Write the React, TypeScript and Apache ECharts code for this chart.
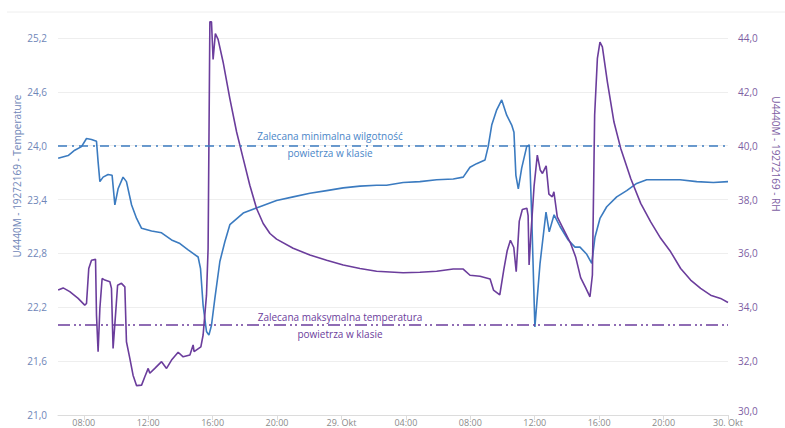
import React, { useEffect, useRef } from "react";
import * as echarts from "echarts";

// hours since 28 Oct 00:00
const tempHours = [6.41, 7.03, 7.44, 7.86, 8.17, 8.48, 8.79, 8.89, 9.0, 9.2, 9.51, 9.76, 9.93, 10.13, 10.44, 10.65, 10.97, 11.28, 11.59, 12.21, 12.83, 13.45, 13.97, 14.48, 15.1, 15.25, 15.41, 15.62, 15.77, 15.93, 16.14, 16.45, 16.76, 17.07, 17.9, 18.93, 19.97, 21.0, 22.04, 23.08, 24.11, 25.15, 26.18, 26.8, 27.83, 28.87, 29.91, 30.94, 31.56, 31.98, 32.39, 32.91, 33.11, 33.33, 33.64, 33.95, 34.26, 34.57, 34.71, 34.83, 34.98, 35.19, 35.5, 35.66, 35.81, 36.01, 36.33, 36.7, 36.9, 37.2, 37.57, 38.08, 38.5, 38.81, 39.23, 39.54, 39.74, 40.05, 40.47, 41.09, 41.71, 42.33, 42.95, 43.98, 45.02, 46.06, 47.09, 48.0];
const tempValues = [23.86, 23.89, 23.95, 23.99, 24.08, 24.07, 24.05, 23.82, 23.6, 23.65, 23.68, 23.67, 23.34, 23.52, 23.65, 23.6, 23.34, 23.19, 23.08, 23.05, 23.03, 22.95, 22.91, 22.84, 22.76, 22.63, 22.22, 21.93, 21.89, 22.0, 22.3, 22.71, 22.93, 23.12, 23.25, 23.32, 23.39, 23.43, 23.47, 23.5, 23.53, 23.55, 23.56, 23.56, 23.59, 23.6, 23.62, 23.63, 23.65, 23.76, 23.8, 23.84, 23.99, 24.23, 24.4, 24.51, 24.34, 24.23, 24.15, 23.67, 23.52, 23.75, 23.99, 24.01, 23.23, 21.98, 22.69, 23.26, 23.04, 23.23, 23.1, 22.95, 22.87, 22.87, 22.79, 22.69, 22.98, 23.19, 23.32, 23.43, 23.5, 23.58, 23.62, 23.62, 23.62, 23.6, 23.59, 23.6];

const rhHours = [6.41, 6.72, 7.13, 7.65, 8.06, 8.17, 8.31, 8.48, 8.73, 8.79, 8.89, 9.0, 9.14, 9.31, 9.62, 9.72, 9.82, 9.97, 10.1, 10.34, 10.55, 10.65, 10.86, 11.06, 11.28, 11.59, 11.79, 12.0, 12.1, 12.41, 12.83, 13.14, 13.45, 13.86, 14.17, 14.59, 14.79, 14.85, 15.27, 15.41, 15.62, 15.72, 15.83, 15.93, 16.03, 16.17, 16.34, 16.65, 17.07, 17.49, 17.9, 18.31, 18.73, 19.14, 19.56, 19.97, 21.0, 22.04, 23.08, 24.11, 25.15, 26.18, 27.83, 28.87, 29.91, 30.94, 31.56, 31.98, 32.6, 33.23, 33.44, 33.83, 34.08, 34.29, 34.49, 34.7, 34.85, 35.04, 35.23, 35.51, 35.59, 35.65, 35.76, 35.96, 36.16, 36.34, 36.48, 36.71, 36.88, 37.09, 37.19, 37.4, 37.71, 38.23, 38.54, 38.85, 39.16, 39.43, 39.58, 39.72, 39.89, 40.05, 40.2, 40.51, 40.92, 41.34, 41.96, 42.58, 43.2, 43.82, 44.44, 45.06, 45.68, 46.3, 46.92, 47.54, 48.0];
const rhValues = [34.64, 34.72, 34.58, 34.33, 34.08, 34.14, 35.44, 35.75, 35.78, 33.71, 32.35, 33.96, 35.07, 35.01, 34.95, 34.7, 32.47, 33.71, 34.82, 34.89, 34.76, 32.72, 32.1, 31.48, 31.09, 31.11, 31.42, 31.73, 31.55, 31.73, 31.98, 31.73, 32.04, 32.33, 32.16, 32.23, 32.6, 32.35, 32.53, 32.97, 34.45, 36.19, 44.6, 44.6, 43.2, 44.16, 43.95, 43.11, 41.75, 40.51, 39.52, 38.53, 37.67, 37.11, 36.74, 36.53, 36.19, 35.94, 35.75, 35.57, 35.44, 35.34, 35.28, 35.3, 35.34, 35.42, 35.42, 35.19, 35.15, 35.05, 34.64, 34.46, 35.4, 36.1, 36.49, 36.22, 35.32, 37.2, 37.63, 37.68, 37.4, 35.57, 36.7, 38.5, 39.65, 39.1, 38.97, 39.25, 38.2, 38.1, 38.29, 37.36, 36.99, 36.37, 35.87, 35.1, 34.73, 34.39, 35.2, 41.13, 43.24, 43.85, 43.67, 42.37, 40.88, 39.9, 38.78, 37.86, 37.17, 36.56, 36.06, 35.44, 35.01, 34.7, 34.45, 34.33, 34.18];

const tickHours = [8, 12, 16, 20, 24, 28, 32, 36, 40, 44, 48];
const tickLabels = ["08:00", "12:00", "16:00", "20:00", "29. Okt", "04:00", "08:00", "12:00", "16:00", "20:00", "30. Okt"];

const minHumidityLine = 24.0; // on temperature axis scale (= 40 % RH)
const maxTempLine = 22.0;

const BLUE = "#3b7bc0";
const PURPLE = "#6b3d9c";
const FONT = "Open Sans";

export default function App() {
  const ref = useRef<HTMLDivElement>(null);
  useEffect(() => {
    if (!ref.current) return;
    const chart = echarts.init(ref.current, null, { renderer: "svg" });
    const fmtComma = (v: number) => v.toFixed(1).replace(".", ",");
    chart.setOption({
      animation: false,
      grid: { left: 58, right: 57, top: 38, bottom: 13, containLabel: false },
      xAxis: {
        type: "value",
        min: 6.4,
        max: 48,
        axisLine: { show: true, lineStyle: { color: "#dcdcdc" } },
        axisTick: { show: true, customValues: tickHours, length: 5, lineStyle: { color: "#dcdcdc" } },
        axisLabel: {
          customValues: tickHours,
          margin: 2,
          fontSize: 9,
          lineHeight: 10,
          fontFamily: FONT,
          color: "#8a8a8a",
          formatter: (v: number) => tickLabels[tickHours.indexOf(Math.round(v))] ?? "",
        },
        splitLine: { show: false },
      },
      yAxis: [
        {
          type: "value",
          min: 21,
          max: 25.2,
          interval: 0.6,
          axisLine: { show: false },
          axisTick: { show: false },
          axisLabel: { margin: 11, fontSize: 10, fontFamily: FONT, color: "#6f86b8", formatter: fmtComma },
          splitLine: { lineStyle: { color: "#eeeeee" } },
        },
        {
          type: "value",
          min: 30,
          max: 44,
          interval: 2,
          position: "right",
          axisLine: { show: false },
          axisTick: { show: false },
          axisLabel: {
            margin: 10,
            fontSize: 10,
            fontFamily: FONT,
            color: "#7d5ea3",
            formatter: (v: number) => (v <= 30 ? `{lo|${fmtComma(v)}}` : fmtComma(v)),
            rich: { lo: { fontSize: 10, fontFamily: FONT, color: "#7d5ea3", padding: [0, 0, 9, 0] } },
          },
          splitLine: { show: false },
        },
      ],
      series: [
        {
          name: "Temperature",
          type: "line",
          yAxisIndex: 0,
          data: tempHours.map((h, i) => [h, tempValues[i]]),
          showSymbol: false,
          clip: false,
          lineStyle: { color: BLUE, width: 1.6 },
          itemStyle: { color: BLUE },
          markLine: {
            silent: true,
            symbol: "none",
            label: { show: false },
            data: [
              { yAxis: minHumidityLine, lineStyle: { color: BLUE, width: 1.6, type: [9, 5, 2, 5] } },
              { yAxis: maxTempLine, lineStyle: { color: PURPLE, width: 1.6, type: [12, 4, 2, 3, 2, 4] } },
            ],
          },
        },
        {
          name: "RH",
          type: "line",
          yAxisIndex: 1,
          data: rhHours.map((h, i) => [h, rhValues[i]]),
          showSymbol: false,
          clip: false,
          lineStyle: { color: PURPLE, width: 1.6 },
          itemStyle: { color: PURPLE },
        },
      ],
      graphic: [
        { type: "line", shape: { x1: 7, y1: 12, x2: 785, y2: 12 }, style: { stroke: "#eeeeee", lineWidth: 1 }, silent: true },
        {
          type: "text",
          x: 17,
          y: 176,
          rotation: Math.PI / 2,
          style: { text: "U4440M - 19272169 - Temperature", fontSize: 10, fontFamily: FONT, fill: "#6f86b8", align: "center", verticalAlign: "middle" },
        },
        {
          type: "text",
          x: 776,
          y: 154,
          rotation: -Math.PI / 2,
          style: { text: "U4440M - 19272169 - RH", fontSize: 10, fontFamily: FONT, fill: "#7d5ea3", align: "center", verticalAlign: "middle" },
        },
        {
          type: "text",
          x: 330,
          y: 144,
          style: { text: "Zalecana minimalna wilgotność\npowietrza w klasie", fontSize: 10, lineHeight: 17, fontFamily: FONT, fill: "#4a86c8", align: "center", verticalAlign: "middle" },
        },
        {
          type: "text",
          x: 340,
          y: 325,
          style: { text: "Zalecana maksymalna temperatura\npowietrza w klasie", fontSize: 10, lineHeight: 17, fontFamily: FONT, fill: "#6b3d9c", align: "center", verticalAlign: "middle" },
        },
      ],
    });
    return () => chart.dispose();
  }, []);
  return <div ref={ref} style={{ width: 785, height: 428, position: "absolute", left: 0, top: 0 }} />;
}
